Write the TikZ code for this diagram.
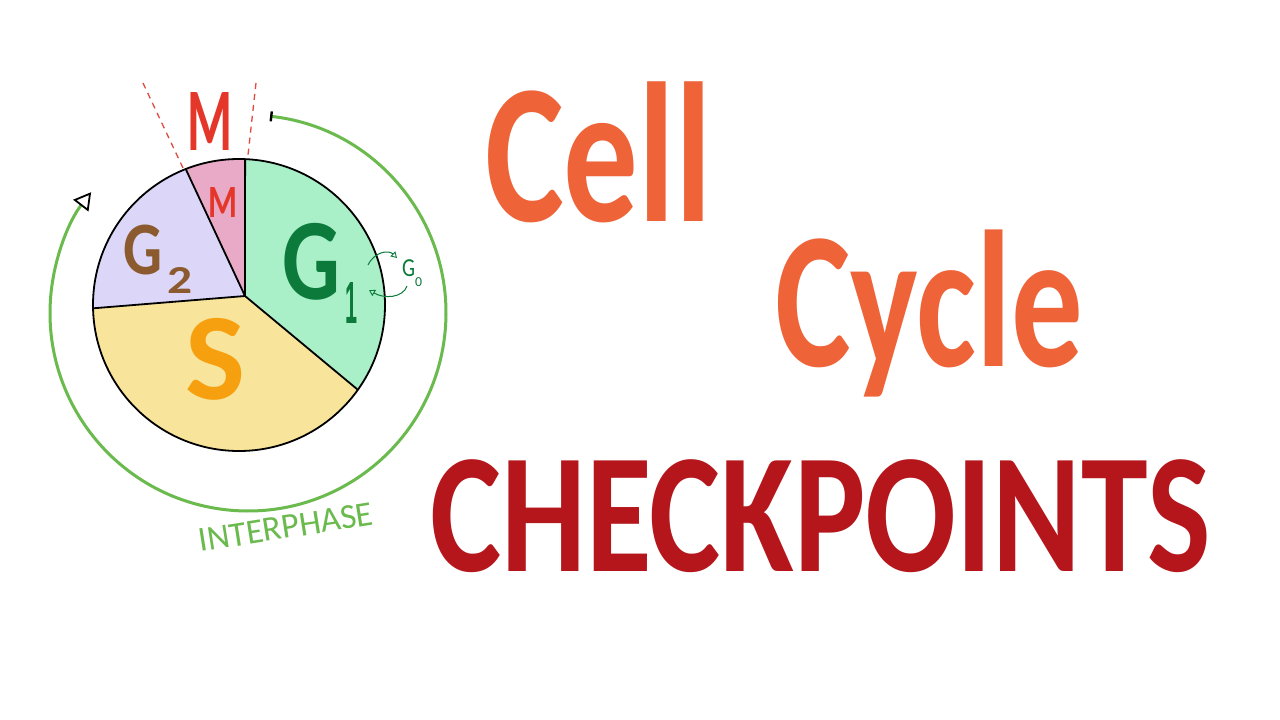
\documentclass[tikz,border=0pt]{standalone}
\usepackage{fontspec}
\setmainfont{Carlito}
\newfontfamily\barfont{Liberation Sans}
\usepackage{graphicx}
\usetikzlibrary{arrows.meta}
\definecolor{titleorange}{HTML}{EE6338}
\definecolor{titlered}{HTML}{B5161B}
\definecolor{mred}{HTML}{E4372A}
\definecolor{gonegreen}{HTML}{0B7A3A}
\definecolor{gtwobrown}{HTML}{8B5A2E}
\definecolor{sorange}{HTML}{F6A010}
\definecolor{arcgreen}{HTML}{6BBA4E}
\definecolor{dashred}{HTML}{E04A3F}
\definecolor{gonefill}{HTML}{A9EFC8}
\definecolor{sfill}{HTML}{F8E49B}
\definecolor{gtwofill}{HTML}{DCD6F8}
\definecolor{mfill}{HTML}{E8AAC6}
\newcommand{\mkfit}[3]{\resizebox*{#1pt}{#2pt}{#3}}
\begin{document}
\begin{tikzpicture}[x=1pt,y=-1pt,
  lbl/.style={inner sep=0pt, outer sep=0pt, anchor=north west},
  pieline/.style={draw=black, line width=1.8pt, line join=round},
  cyclearc/.style={draw=arcgreen, line width=3pt,
    {Bar[width=10pt,line width=2.4pt,color=black]}-{Triangle[length=17pt,width=19pt,line width=1.8pt,color=black,fill=white]}},
  mdash/.style={draw=dashred, line width=1.3pt, dash pattern=on 6pt off 5pt},
  gzeroarrow/.style={draw=gonegreen, line width=1pt, -{Triangle[open,length=6pt,width=7pt,line width=0.9pt]}}
]
\useasboundingbox (0,0) rectangle (1280,720);
\fill[white] (0,0) rectangle (1280,720);

% pie geometry
\coordinate (hub) at (245,296);
\coordinate (pc) at (239,305);
\coordinate (ptop) at ([shift={(239,305)}]-87.6:146);
\coordinate (pmg) at ([shift={(239,305)}]-111.4:146);
\coordinate (pgs) at ([shift={(239,305)}]178.7:146);
\coordinate (psg) at ([shift={(239,305)}]35.5:146);

\fill[gonefill] (hub) -- (ptop) arc[start angle=-87.6,end angle=35.5,radius=146] -- cycle;
\fill[sfill] (hub) -- (psg) arc[start angle=35.5,end angle=178.7,radius=146] -- cycle;
\fill[gtwofill] (hub) -- (pgs) arc[start angle=178.7,end angle=248.6,radius=146] -- cycle;
\fill[mfill] (hub) -- (pmg) arc[start angle=248.6,end angle=272.4,radius=146] -- cycle;

\draw[pieline] (pc) circle[radius=146];
\draw[pieline] (hub) -- (ptop);
\draw[pieline] (hub) -- (pmg);
\draw[pieline] (hub) -- (pgs);
\draw[pieline] (hub) -- (psg);

% interphase arc
\draw[cyclearc] ([shift={(248,313)}]-83.6:198) arc[start angle=-83.6,end angle=217.6,radius=198];

% M dashed lines
\coordinate (dla) at (143,83);
\coordinate (dlb) at (183,168);
\coordinate (dra) at (256,83);
\coordinate (drb) at (248,155);
\draw[mdash] (dla) -- (dlb);
\draw[mdash] (dra) -- (drb);

% labels in pie
\node[lbl] (bigM) at (187,92) {\color{mred}\mkfit{45}{58}{\bfseries M}};
\node[lbl] (smallM) at (208,187) {\color{mred}\mkfit{29}{30}{\bfseries M}};
\node[lbl] (gtwoG) at (123,225) {\color{gtwobrown}\mkfit{39}{50}{\bfseries G}};
\node[lbl] (gtwoSub) at (167,267) {\color{gtwobrown}\mkfit{25}{26}{\bfseries 2}};
\node[lbl] (goneG) at (282,223) {\color{gonegreen}\mkfit{58}{77}{\bfseries G}};
\node[lbl] (goneSub) at (345,282) {\color{gonegreen}\mkfit{12}{41}{\barfont\bfseries 1}};
\node[lbl] (sLabel) at (185,318) {\color{sorange}\mkfit{60}{82}{\bfseries S}};

% G0
\node[lbl] (gzeroG) at (402,260) {\color{gonegreen}\mkfit{13}{17}{G}};
\node[lbl] (gzeroSub) at (415,278) {\color{gonegreen}\mkfit{7}{9}{0}};
\coordinate (gaA) at (368,265);
\coordinate (gaB) at (397,258);
\coordinate (gbA) at (407,286);
\coordinate (gbB) at (369,290);
\draw[gzeroarrow] (gaA) .. controls (375,251) and (389,250) .. (gaB);
\draw[gzeroarrow] (gbA) .. controls (403,298) and (384,299) .. (gbB);

% interphase text
\node[inner sep=0pt, rotate=9] (interphase) at (286,527) {\color{arcgreen}\mkfit{176}{23}{INTERPHASE}};

% titles
\node[lbl] (cell) at (485,82) {\color{titleorange}\mkfit{227}{141}{\bfseries Cell}};
\node[lbl] (cyc) at (775,230) {\color{titleorange}\mkfit{308}{167}{\bfseries Cycle}};
\node[lbl] (checkpoints) at (430,460) {\color{titlered}\mkfit{780}{113}{\bfseries CHECKPOINTS}};
\end{tikzpicture}
\end{document}
